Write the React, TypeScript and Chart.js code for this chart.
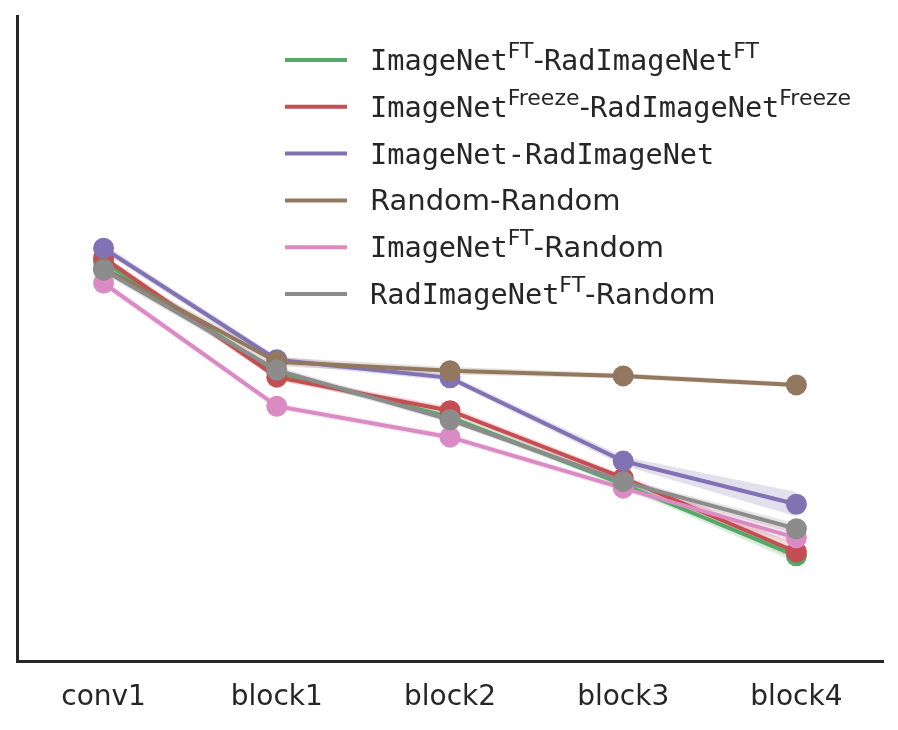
import React, { useEffect, useRef } from 'react';
import { Chart, registerables } from 'chart.js';

Chart.register(...registerables);

const layers = ['conv1', 'block1', 'block2', 'block3', 'block4'];

// mean value per layer
const ftFt = [0.619, 0.447, 0.378, 0.274, 0.163];
const freezeFreeze = [0.625, 0.44, 0.388, 0.284, 0.169];
const imnetRadimnet = [0.64, 0.467, 0.439, 0.31, 0.243];
const randomRandom = [0.609, 0.464, 0.45, 0.442, 0.428];
const imnetFtRandom = [0.586, 0.395, 0.347, 0.268, 0.191];
const radFtRandom = [0.606, 0.451, 0.374, 0.278, 0.205];

// half width of the shaded band
const ftFtErr = [0.006, 0.005, 0.005, 0.005, 0.01];
const freezeErr = [0.006, 0.005, 0.006, 0.005, 0.012];
const imnetErr = [0.006, 0.006, 0.005, 0.007, 0.019];
const randomErr = [0.006, 0.007, 0.006, 0.004, 0.004];
const imnetFtRandomErr = [0.006, 0.005, 0.005, 0.005, 0.01];
const radFtRandomErr = [0.006, 0.006, 0.005, 0.005, 0.008];

type Part = { text: string; mono?: boolean; sup?: boolean };

const seriesLabels: Part[][] = [
    [{ text: 'ImageNet', mono: true }, { text: 'FT', sup: true }, { text: '-' }, { text: 'RadImageNet', mono: true }, { text: 'FT', sup: true }],
    [{ text: 'ImageNet', mono: true }, { text: 'Freeze', sup: true }, { text: '-' }, { text: 'RadImageNet', mono: true }, { text: 'Freeze', sup: true }],
    [{ text: 'ImageNet-RadImageNet', mono: true }],
    [{ text: 'Random-Random' }],
    [{ text: 'ImageNet', mono: true }, { text: 'FT', sup: true }, { text: '-Random' }],
    [{ text: 'RadImageNet', mono: true }, { text: 'FT', sup: true }, { text: '-Random' }],
];

const colors = ['#55A868', '#C44E52', '#8172B3', '#937860', '#DA8BC3', '#8C8C8C'];
const values = [ftFt, freezeFreeze, imnetRadimnet, randomRandom, imnetFtRandom, radFtRandom];
const errors = [ftFtErr, freezeErr, imnetErr, randomErr, imnetFtRandomErr, radFtRandomErr];

const ink = '#262626';

const withAlpha = (hex: string, a: number) => {
    const n = parseInt(hex.slice(1), 16);
    return `rgba(${(n >> 16) & 255}, ${(n >> 8) & 255}, ${n & 255}, ${a})`;
};

const mixedLegend = {
    id: 'mixedLegend',
    afterDraw(chart: Chart) {
        const ctx = chart.ctx;
        ctx.save();
        seriesLabels.forEach((parts, i) => {
            const y = 60 + i * 46.8;
            ctx.strokeStyle = colors[i];
            ctx.lineWidth = 4;
            ctx.beginPath();
            ctx.moveTo(285, y);
            ctx.lineTo(347, y);
            ctx.stroke();

            let x = 370;
            ctx.fillStyle = ink;
            ctx.textBaseline = 'alphabetic';
            parts.forEach((p) => {
                const size = p.sup ? 22 : p.mono ? 28.6 : 29;
                const family = p.mono ? '"DejaVu Sans Mono"' : '"DejaVu Sans"';
                ctx.font = `${size}px ${family}`;
                ctx.fillText(p.text, x, y + 10 - (p.sup ? 12 : 0));
                x += ctx.measureText(p.text).width;
            });
        });
        ctx.restore();
    },
};

const App: React.FC = () => {
    const chartRef = useRef<HTMLCanvasElement>(null);
    const chartInstanceRef = useRef<Chart | null>(null);

    useEffect(() => {
        if (!chartRef.current) return;
        const ctx = chartRef.current.getContext('2d');
        if (!ctx) return;
        if (chartInstanceRef.current) chartInstanceRef.current.destroy();

        const datasets: any[] = [];
        // bands first (indices 0..11), drawn underneath
        values.forEach((vals, i) => {
            datasets.push({
                label: `lower${i}`,
                data: vals.map((v, j) => v - errors[i][j]),
                borderWidth: 0,
                pointRadius: 0,
                fill: false,
                order: 20 + i,
            });
            datasets.push({
                label: `upper${i}`,
                data: vals.map((v, j) => v + errors[i][j]),
                borderWidth: 0,
                pointRadius: 0,
                backgroundColor: withAlpha(colors[i], 0.22),
                fill: '-1',
                order: 20 + i,
            });
        });
        values.forEach((vals, i) => {
            datasets.push({
                label: `series${i}`,
                data: vals,
                borderColor: colors[i],
                backgroundColor: colors[i],
                borderWidth: 4,
                pointRadius: 10.5,
                pointBorderWidth: 0,
                pointBackgroundColor: colors[i],
                fill: false,
                order: 10 - i,
            });
        });

        chartInstanceRef.current = new Chart(ctx, {
            type: 'line',
            data: { labels: layers, datasets },
            plugins: [mixedLegend],
            options: {
                responsive: true,
                maintainAspectRatio: false,
                animation: false,
                layout: { padding: { top: 16, right: 15, left: 17, bottom: 0 } },
                plugins: {
                    legend: { display: false },
                    tooltip: { enabled: false },
                },
                scales: {
                    x: {
                        offset: true,
                        grid: { display: false, drawTicks: false },
                        border: { display: true, color: ink, width: 3 },
                        ticks: {
                            color: ink,
                            padding: 20,
                            font: { family: '"DejaVu Sans"', size: 28 },
                        },
                        afterFit: (scale: any) => {
                            scale.height = 69;
                        },
                    },
                    y: {
                        min: 0,
                        max: 1,
                        grid: { display: false, drawTicks: false },
                        border: { display: true, color: ink, width: 3 },
                        ticks: { display: false },
                    },
                },
            },
        });

        return () => {
            if (chartInstanceRef.current) {
                chartInstanceRef.current.destroy();
                chartInstanceRef.current = null;
            }
        };
    }, []);

    return (
        <div style={{ position: 'fixed', left: 0, top: 0, width: 898, height: 730, background: '#fff' }}>
            <canvas ref={chartRef}></canvas>
        </div>
    );
};

export default App;
